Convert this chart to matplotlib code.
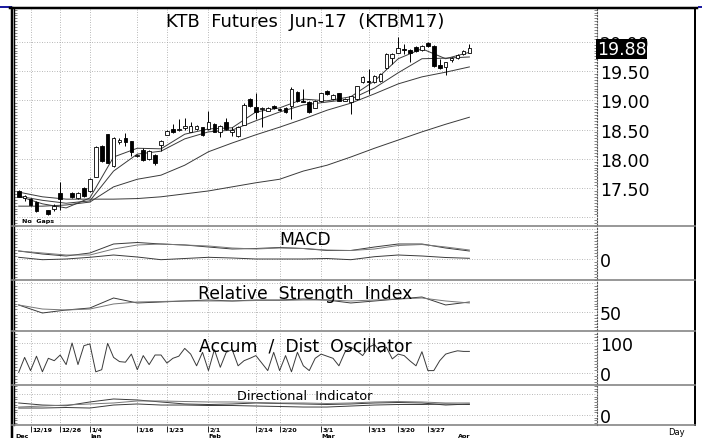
import matplotlib.pyplot as plt
import numpy as np
from matplotlib.ticker import MultipleLocator

W, H = 703, 439
nan = np.nan

# ---- daily candles, one slot per trading day (mid Dec 2016 .. early Apr 2017) ----
opens = [17.45, 17.33, 17.31, 17.26, nan, 17.11, 17.14, 17.41, nan, 17.41,
         17.33, 17.50, 17.45, 17.70, 18.22, 18.41, 17.88, 18.30, 18.35, 18.29,
         18.05, 18.15, 18.00, 18.06, 18.24, 18.42, 18.51, 18.50, 18.53, 18.47,
         18.51, 18.53, 18.51, 18.59, 18.47, 18.63, 18.47, 18.39, 18.59, 19.02,
         18.88, 18.85, 18.83, 18.90, 18.85, 18.87, 18.90, 19.14, 18.99, 18.97,
         18.88, 18.99, 19.16, 19.02, 19.11, 19.00, 18.97, 19.02, 19.31, 19.33,
         19.31, 19.33, 19.55, 19.73, 19.82, 19.87, 19.86, 19.91, 19.86, 19.98,
         19.93, 19.60, 19.57, 19.70, 19.72, 19.79, 19.82]
highs = [17.47, 17.38, 17.33, 17.28, nan, 17.12, 17.23, 17.60, nan, 17.43,
         17.43, 17.52, 17.67, 18.22, 18.24, 18.42, 18.37, 18.35, 18.44, 18.30,
         18.08, 18.18, 18.15, 18.08, 18.32, 18.49, 18.59, 18.68, 18.70, 18.63,
         18.58, 18.54, 18.82, 18.61, 18.58, 18.70, 18.54, 18.56, 18.95, 19.04,
         19.12, 18.88, 18.88, 18.92, 18.87, 18.88, 19.23, 19.16, 19.19, 18.99,
         19.00, 19.12, 19.18, 19.11, 19.12, 19.04, 19.07, 19.24, 19.41, 19.53,
         19.43, 19.47, 19.81, 19.81, 20.08, 19.96, 19.88, 19.93, 19.95, 20.00,
         19.94, 19.71, 19.65, 19.74, 19.79, 19.86, 19.97]
lows = [17.35, 17.28, 17.19, 17.09, nan, 17.04, 17.10, 17.12, nan, 17.33,
        17.31, 17.35, 17.43, 17.69, 17.94, 17.93, 17.86, 18.25, 18.22, 18.05,
        18.03, 17.96, 17.98, 17.89, 18.13, 18.41, 18.44, 18.47, 18.49, 18.46,
        18.49, 18.39, 18.49, 18.46, 18.37, 18.49, 18.39, 18.37, 18.58, 18.88,
        18.68, 18.54, 18.82, 18.85, 18.82, 18.78, 18.68, 18.97, 18.97, 18.78,
        18.87, 18.97, 19.09, 19.00, 18.99, 18.99, 18.76, 19.00, 19.29, 19.11,
        19.29, 19.31, 19.53, 19.62, 19.81, 19.79, 19.65, 19.83, 19.84, 19.91,
        19.57, 19.53, 19.43, 19.66, 19.70, 19.77, 19.81]
closes = [17.36, 17.35, 17.21, 17.11, nan, 17.06, 17.19, 17.31, nan, 17.35,
          17.41, 17.37, 17.65, 18.20, 17.96, 17.94, 18.35, 18.31, 18.29, 18.12,
          18.06, 17.99, 18.13, 17.94, 18.30, 18.47, 18.46, 18.51, 18.56, 18.56,
          18.56, 18.41, 18.63, 18.47, 18.56, 18.51, 18.49, 18.54, 18.92, 18.90,
          18.80, 18.86, 18.87, 18.87, 18.84, 18.80, 19.19, 18.99, 18.98, 18.80,
          18.99, 19.11, 19.11, 19.09, 19.00, 19.02, 19.06, 19.23, 19.40, 19.32,
          19.41, 19.45, 19.79, 19.79, 19.88, 19.86, 19.81, 19.84, 19.93, 19.93,
          19.59, 19.55, 19.64, 19.72, 19.77, 19.84, 19.88]
last_price = 19.88

# ---- smooth lines, read every 4th slot ----
line_idx = list(range(0, 77, 4))
ma5 = [17.36, 17.23, 17.16, 17.33, 18.03, 18.18, 18.17, 18.42, 18.51, 18.53,
       18.80, 18.87, 19.02, 18.99, 19.06, 19.33, 19.71, 19.88, 19.71, 19.82]
ma10 = [17.36, 17.29, 17.24, 17.28, 17.79, 18.08, 18.13, 18.34, 18.46, 18.49,
        18.65, 18.80, 18.92, 18.97, 19.02, 19.21, 19.47, 19.71, 19.72, 19.74]
ma20 = [17.19, 17.19, 17.21, 17.26, 17.52, 17.65, 17.72, 17.89, 18.12, 18.27,
        18.41, 18.54, 18.68, 18.83, 18.95, 19.11, 19.28, 19.40, 19.48, 19.57]
ma60 = [17.43, 17.35, 17.31, 17.31, 17.31, 17.32, 17.35, 17.40, 17.45, 17.52,
        17.59, 17.65, 17.79, 17.89, 18.03, 18.18, 18.32, 18.46, 18.59, 18.71]

macd = [0.08, 0.05, 0.03, 0.06, 0.15, 0.165, 0.15, 0.14, 0.12, 0.10,
        0.105, 0.115, 0.105, 0.085, 0.085, 0.12, 0.15, 0.15, 0.11, 0.08]
macd_signal = [0.08, 0.06, 0.04, 0.04, 0.10, 0.14, 0.15, 0.14, 0.13, 0.11,
               0.10, 0.11, 0.105, 0.09, 0.085, 0.10, 0.135, 0.145, 0.12, 0.09]
macd_hist = [0.017, -0.007, 0.0, 0.017, 0.04, 0.02, -0.007, 0.005, 0.017, 0.01,
             0.0, 0.0, 0.0, 0.005, -0.007, 0.023, 0.04, 0.03, 0.015, 0.007]

rsi = [62.5, 48.8, 53.9, 57.3, 74.4, 65.9, 67.6, 69.3, 71.0, 69.3,
       71.0, 71.0, 72.7, 71.0, 65.9, 69.3, 72.7, 76.1, 62.5, 67.6]
rsi_avg = [62.5, 55.6, 53.9, 55.6, 64.2, 67.6, 68.4, 69.3, 69.3, 69.3,
           70.1, 70.1, 71.0, 71.0, 69.3, 71.0, 72.7, 74.4, 69.3, 65.9]

di_plus = [22.9, 19.0, 17.7, 24.8, 30.5, 28.6, 24.8, 21.0, 20.0, 21.0,
           22.9, 21.9, 21.0, 20.0, 21.0, 22.9, 23.8, 22.9, 19.0, 21.0]
di_minus = [13.3, 13.3, 14.3, 13.3, 19.0, 21.0, 19.0, 19.0, 18.1, 18.1,
            17.1, 16.2, 15.2, 15.2, 17.1, 19.0, 20.0, 20.0, 21.0, 20.0]
adx = [15.2, 17.1, 19.0, 21.0, 22.9, 26.7, 26.7, 25.7, 24.8, 24.8,
       23.8, 22.9, 22.9, 21.9, 22.9, 24.8, 25.7, 24.8, 22.9, 22.9]

# accumulation / distribution oscillator, every slot
ad_osc = [2, 52, 8, 56, 4, 49, 41, 60, 28, 100,
          28, 91, 97, 4, 11, 99, 52, 38, 36, 63,
          11, 58, 28, 60, 60, 33, 49, 56, 82, 63,
          24, 69, 8, 78, 19, 69, 78, 24, 41, 49,
          58, 33, 8, 69, 8, 58, 4, 69, 24, 8,
          49, 63, 56, 49, 24, 69, 86, 74, 58, 86,
          95, 69, 86, 47, 63, 58, 40, 24, 71, 8,
          8, 41, 63, 69, 74, 72, 72]

tick_idx = [2, 7, 12, 20, 25, 32, 40, 44, 51, 59, 64, 69]
tick_lbl = ['12/19', '12/26', '1/4', '1/16', '1/23', '2/1', '2/14', '2/20',
            '3/1', '3/13', '3/20', '3/27']
month_idx = [-0.6, 12, 32, 51, 74]
month_lbl = ['Dec', 'Jan', 'Feb', 'Mar', 'Apr']

# ---------------------------------------------------------------
X0, X1 = -0.79, 97.52
fig = plt.figure(figsize=(W / 100, H / 100), dpi=100)


def panel(l, t, r, b):
    return fig.add_axes([l / W, 1 - b / H, (r - l) / W, (b - t) / H])


def style(ax, ylim, grid_vals, labels, minor):
    ax.set_xlim(X0, X1)
    ax.set_ylim(*ylim)
    ax.set_xticks(tick_idx)
    ax.set_yticks(grid_vals)
    ax.set_yticklabels(labels)
    ax.grid(True, linestyle=(0, (1, 2)), color='#a0a0a0', lw=0.6)
    ax.tick_params(axis='x', length=0, labelbottom=False)
    ax.tick_params(axis='y', which='major', length=0, left=False, right=True,
                   labelleft=False, labelright=True, labelsize=12.5, pad=2)
    ax.yaxis.set_minor_locator(MultipleLocator(minor))
    ax.tick_params(axis='y', which='minor', left=True, right=True, length=2,
                   width=0.5, direction='in', color='#555555')
    ax.spines['top'].set_visible(False)
    ax.spines['bottom'].set_visible(False)
    ax.spines['right'].set_linestyle(':')
    ax.spines['right'].set_color('#555555')
    ax.spines['left'].set_linewidth(1.0)


def label(ax, y, s, size=12.4):
    ax.text((305 - 14) / 583, y, s, transform=ax.transAxes, ha='center',
            va='baseline', fontsize=size)


line_kw = dict(color='#3a3a3a', lw=0.7)

# ---- price panel ----
ax = panel(14, 10, 597, 226)
style(ax, (16.868, 20.56), [17.0, 17.5, 18.0, 18.5, 19.0, 19.5, 20.0],
      ['', '17.50', '18.00', '18.50', '19.00', '19.50', '20.00'], 0.05)
idx = np.arange(len(opens))
o = np.array(opens)
c = np.array(closes)
up = c >= o
ax.vlines(idx, lows, highs, color='black', lw=0.7, zorder=3)
ax.bar(idx, np.abs(c - o) + 0.012, bottom=np.minimum(o, c) - 0.006, width=0.62,
       color=np.where(up, 'white', 'black'), edgecolor='black', lw=0.6, zorder=4)
for ma in (ma5, ma10, ma20, ma60):
    ax.plot(line_idx, ma, zorder=2, **line_kw)
# last-price flag drawn over the 20.00 scale label, as on the original screen
ax.text(1.0, last_price, '19.88', transform=ax.get_yaxis_transform(),
        ha='left', va='center', color='white', fontsize=12.5, zorder=6,
        bbox=dict(facecolor='black', edgecolor='none', pad=0.6))
ax.text(0.014, 0.01, 'No  Gaps', transform=ax.transAxes, fontsize=4.6,
        weight='bold', va='bottom')
fig.text(305 / W, 1 - 27 / H, 'KTB  Futures  Jun-17  (KTBM17)', ha='center',
         va='baseline', fontsize=13)

# ---- MACD ----
ax = panel(14, 227, 597, 280)
style(ax, (-0.20, 0.33), [0.0, 0.30], ['0', ''], 0.03)
ax.plot(line_idx, macd, **line_kw)
ax.plot(line_idx, macd_signal, color='#777777', lw=0.7)
ax.plot(line_idx, macd_hist, **line_kw)
label(ax, (280 - 245) / 53, 'MACD')

# ---- RSI ----
ax = panel(14, 281, 597, 331)
style(ax, (19.8, 105.1), [50, 100], ['50', ''], 5)
ax.plot(line_idx, rsi, **line_kw)
ax.plot(line_idx, rsi_avg, color='#777777', lw=0.7)
label(ax, (331 - 299) / 50, 'Relative  Strength  Index')

# ---- Accum / Dist oscillator ----
ax = panel(14, 333, 597, 385)
style(ax, (-36.7, 136.7), [0, 100], ['0', '100'], 10)
ax.plot(idx, ad_osc, **line_kw)
label(ax, (385 - 351.5) / 52, 'Accum  /  Dist  Oscillator')

# ---- Directional indicator ----
ax = panel(14, 387, 597, 426)
style(ax, (-19.0, 55.2), [0, 40], ['0', ''], 5)
ax.plot(line_idx, di_plus, **line_kw)
ax.plot(line_idx, di_minus, **line_kw)
ax.plot(line_idx, adx, color='#777777', lw=0.7)
label(ax, (426 - 400) / 39, 'Directional  Indicator', size=9.3)

# ---- date strip ----
ax = panel(14, 426, 597, 439)
ax.set_xlim(X0, X1)
ax.set_ylim(1, 0)
ax.axis('off')
ax.vlines(tick_idx, 0.05, 0.55, color='black', lw=0.6)
for i, s in zip(tick_idx, tick_lbl):
    ax.text(i + 0.25, 0.08, s, fontsize=4.6, weight='bold', va='top')
for i, s in zip(month_idx, month_lbl):
    ax.text(i, 0.6, s, fontsize=4.6, weight='bold', va='top')
fig.text(676 / W, 1 - 433 / H, 'Day', ha='center', va='center', fontsize=6)

# ---- window frame ----
fr = fig.add_axes([0, 0, 1, 1], zorder=10)
fr.set_xlim(0, W)
fr.set_ylim(H, 0)
fr.axis('off')
fr.patch.set_alpha(0)
px = 0.72
fr.plot([0, 11], [8, 8], color='#1c1ca0', lw=2 * px)
fr.plot([10, 697], [9, 9], color='black', lw=2.5 * px)
fr.plot([11.5, 11.5], [9, 439], color='black', lw=2.5 * px)
fr.plot([695, 695], [9, 426], color='black', lw=2 * px)
fr.plot([699, 701], [8, 8], color='#1c1ca0', lw=2 * px)
for y in (226.5, 280.5, 332, 386, 426):
    fr.plot([12, 695], [y, y], color='#808080', lw=1.6 * px)

fig.savefig('out.png', dpi=100)
